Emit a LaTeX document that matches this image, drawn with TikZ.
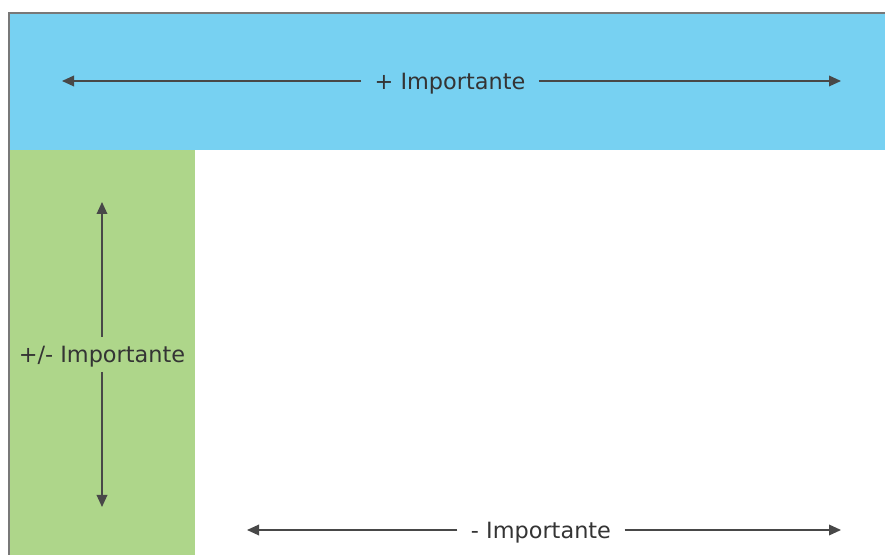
\documentclass[tikz,border=0pt]{standalone}
\usepackage{fontspec}
\setmainfont{DejaVu Sans}
\usetikzlibrary{arrows.meta,positioning}
\definecolor{bandblue}{RGB}{119,209,242}
\definecolor{bandgreen}{RGB}{174,214,138}
\definecolor{arrowgray}{RGB}{72,72,72}
\definecolor{textgray}{RGB}{52,52,52}
\definecolor{framegray}{RGB}{120,120,120}

\begin{document}
\begin{tikzpicture}[x=0.75pt,y=-0.75pt,
    imp label/.style={font=\fontsize{16.8}{20}\selectfont, text=textgray, inner sep=0pt},
    imp arrow/.style={-{Triangle[length=9pt,width=8pt]}, draw=arrowgray, line width=1pt}]
    \useasboundingbox (0,0) rectangle (885,555);
    % bands
    \fill[bandblue] (10,13) rectangle (885,150);
    \fill[bandgreen] (10,150) rectangle (195,555);
    \draw[framegray, line width=1.2pt] (9,555) -- (9,13) -- (885,13);
    % labels
    \node[imp label] (top) at (450,84) {+ Importante};
    \node[imp label] (side) at (102,357) {+/- Importante};
    \node[imp label] (bottom) at (541,533) {- Importante};
    % arrow ends
    \coordinate (topL) at (62,81);
    \coordinate (topR) at (841,81);
    \coordinate (sideU) at (102,202);
    \coordinate (sideD) at (102,507);
    \coordinate (bottomL) at (247,530);
    \coordinate (bottomR) at (841,530);
    % arrows
    \draw[imp arrow] ([xshift=-10pt]top.west |- topL) -- (topL);
    \draw[imp arrow] ([xshift=10pt]top.east |- topR) -- (topR);
    \draw[imp arrow] ([yshift=7pt]side.north) -- (sideU);
    \draw[imp arrow] ([yshift=-3pt]side.south) -- (sideD);
    \draw[imp arrow] ([xshift=-10pt]bottom.west |- bottomL) -- (bottomL);
    \draw[imp arrow] ([xshift=10pt]bottom.east |- bottomR) -- (bottomR);
\end{tikzpicture}
\end{document}
